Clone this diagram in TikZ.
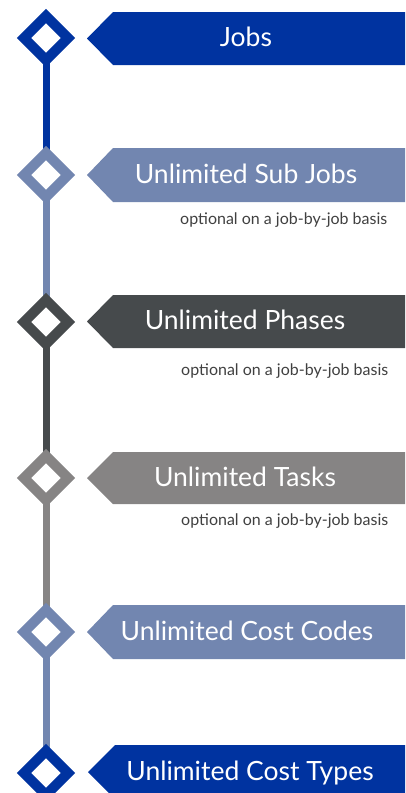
\documentclass[tikz,border=0pt]{standalone}
\usepackage{fontspec}
\setmainfont{Lato}
\usetikzlibrary{shapes.geometric,backgrounds}
\definecolor{cblue}{RGB}{0,51,160}
\definecolor{cslate}{RGB}{114,134,176}
\definecolor{cdark}{RGB}{70,74,76}
\definecolor{cgray}{RGB}{134,132,132}
\definecolor{csub}{RGB}{64,64,64}
\tikzset{
  mark/.style={diamond, draw=#1, line width=10pt, line join=miter, minimum size=44pt, inner sep=0pt, outer sep=0pt, fill=white},
  stem/.style={draw=#1, line width=7pt},
  bannerfill/.style={fill=#1},
  title/.style={anchor=base, text=white, font=\fontsize{26.5}{30}\selectfont, inner sep=0pt},
  subtitle/.style={anchor=base west, text=csub, font=\fontsize{16}{19}\selectfont, inner sep=0pt}
}
\begin{document}
\begin{tikzpicture}[x=1pt,y=-1pt]
\useasboundingbox (0,0) rectangle (405,793);
\clip (0,0) rectangle (405,793);
% diamonds
\node[mark=cblue] (d1) at (46,38) {};
\node[mark=cslate] (d2) at (46,175) {};
\node[mark=cdark] (d3) at (46,322) {};
\node[mark=cgray] (d4) at (46,478) {};
\node[mark=cslate] (d5) at (46,632) {};
\node[mark=cblue] (d6) at (46,773) {};
\begin{scope}[on background layer]
\draw[stem=cblue] (d1.center) -- (d2.center);
\draw[stem=cslate] (d2.center) -- (d3.center);
\draw[stem=cdark] (d3.center) -- (d4.center);
\draw[stem=cgray] (d4.center) -- (d5.center);
\draw[stem=cslate] (d5.center) -- (d6.center);
\end{scope}
% banners
\fill[bannerfill=cblue] (87,38.5) -- (113,12) -- (405,12) -- (405,65) -- (113,65) -- cycle;
\node[title] (t1) at (246,46.5) {Jobs};
\fill[bannerfill=cslate] (87,175) -- (113,148) -- (405,148) -- (405,202) -- (113,202) -- cycle;
\node[title] (t2) at (246,183) {Unlimited Sub Jobs};
\node[subtitle] (s2) at (180,224) {optional on a job-by-job basis};
\fill[bannerfill=cdark] (87,321.5) -- (113,295) -- (405,295) -- (405,348) -- (113,348) -- cycle;
\node[title] (t3) at (245,329.5) {Unlimited Phases};
\node[subtitle] (s3) at (181,375) {optional on a job-by-job basis};
\fill[bannerfill=cgray] (87,478) -- (113,452) -- (405,452) -- (405,504) -- (113,504) -- cycle;
\node[title] (t4) at (245,486) {Unlimited Tasks};
\node[subtitle] (s4) at (181,525) {optional on a job-by-job basis};
\fill[bannerfill=cslate] (87,632) -- (113,605) -- (405,605) -- (405,659) -- (113,659) -- cycle;
\node[title] (t5) at (247,640) {Unlimited Cost Codes};
\fill[bannerfill=cblue] (88,772) -- (115,745) -- (405,745) -- (405,799) -- (115,799) -- cycle;
\node[title] (t6) at (250,780) {Unlimited Cost Types};
\end{tikzpicture}
\end{document}
